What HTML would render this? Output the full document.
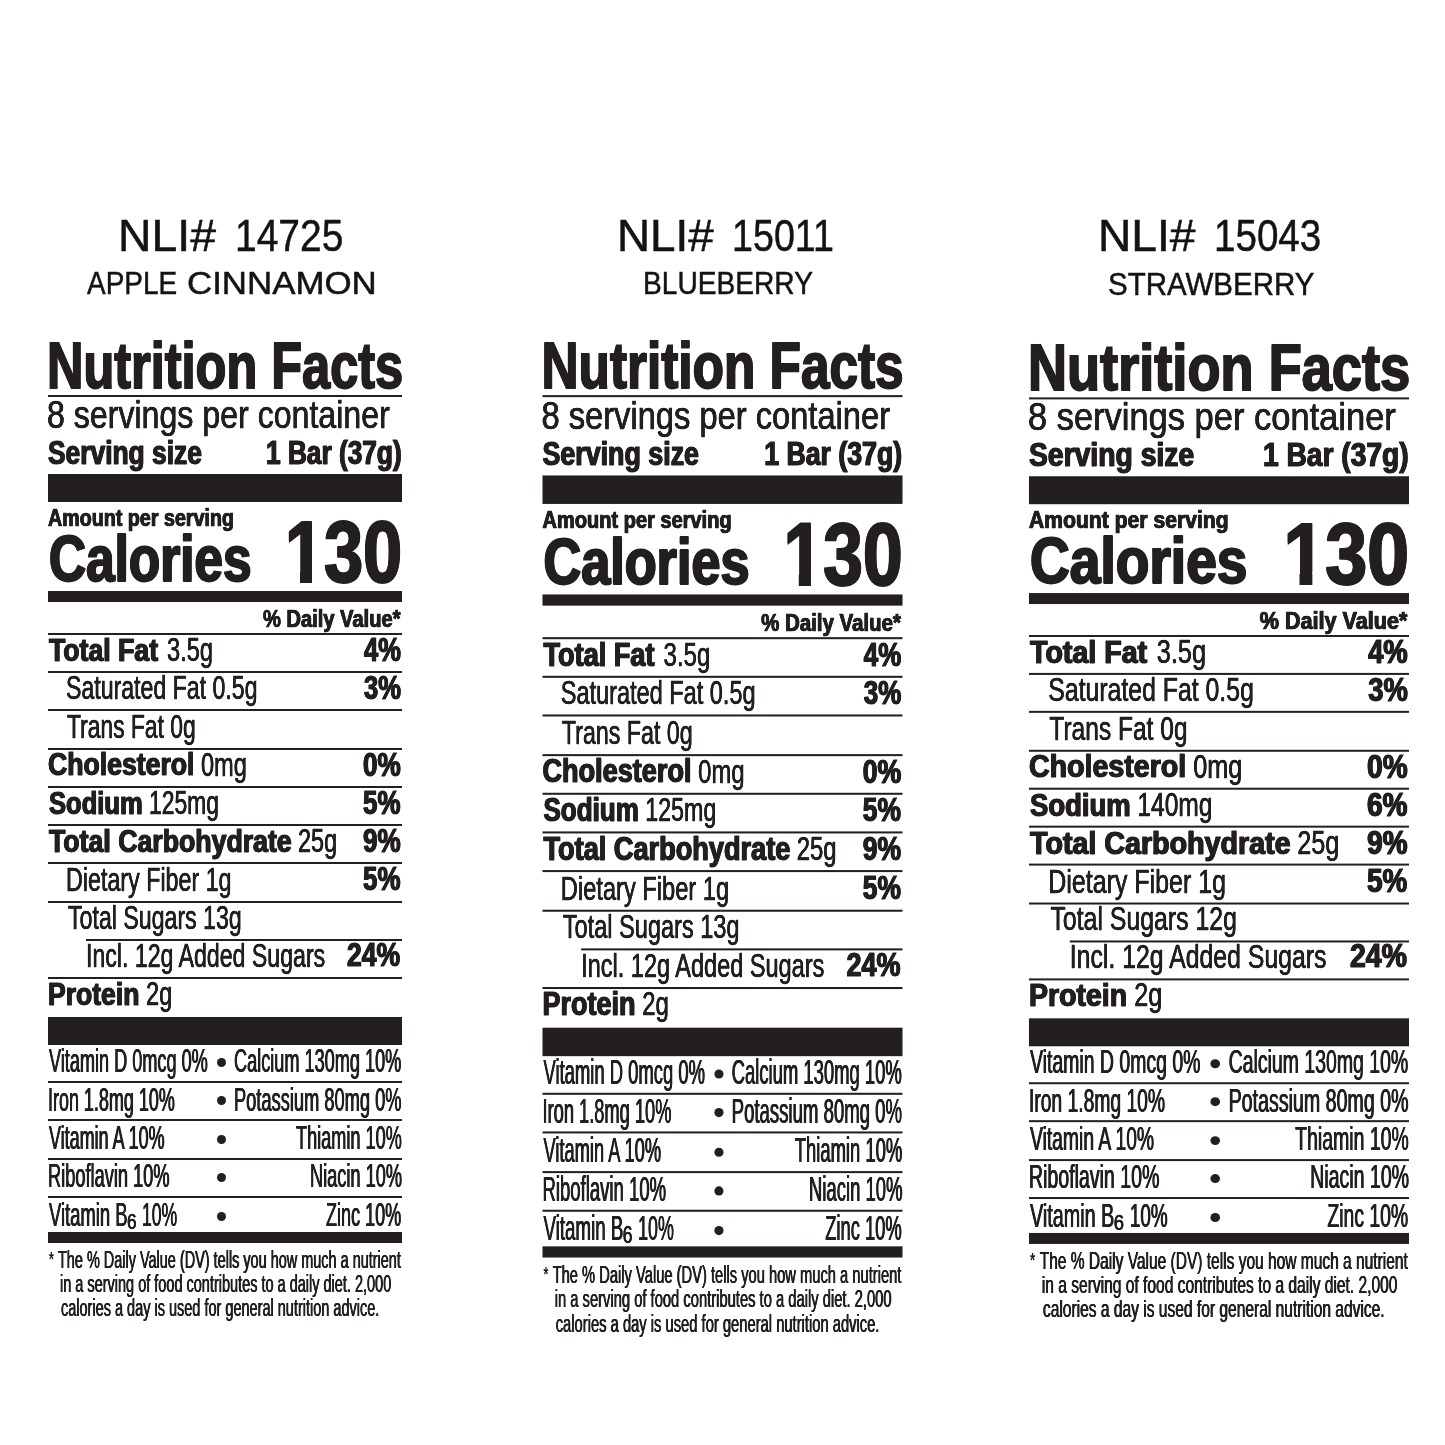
<!DOCTYPE html>
<html lang="en"><head><meta charset="utf-8"><title>Nutrition Facts</title>
<style>
html,body{margin:0;padding:0;background:#fff}
body{width:1445px;height:1445px;position:relative;overflow:hidden;font-family:"Liberation Sans", sans-serif;color:#231f20}
.lab{position:absolute;left:0;top:0;width:0;height:0;transform-origin:0 0}
.t{position:absolute;white-space:pre;line-height:1;transform-origin:0 0;font-weight:400}
.t.b{font-weight:700}
.r{position:absolute;background:#231f20}
.d{position:absolute;background:#231f20;border-radius:50%}
.m{position:absolute;background:#fff}
</style></head>
<body>
<div class="hdr">
<span class="t" style="left:117.96px;top:214.00px;font-size:43.75px;transform:scaleX(1.0597);color:#151213;-webkit-text-stroke:0.50px #151213">NLI#</span>
<span class="t" style="left:234.50px;top:214.00px;font-size:43.75px;transform:scaleX(0.8909);color:#151213;-webkit-text-stroke:0.50px #151213">14725</span>
<span class="t" style="left:87.22px;top:267.00px;font-size:32.25px;transform:scaleX(0.8660);color:#151213;-webkit-text-stroke:0.50px #151213">APPLE</span>
<span class="t" style="left:187.03px;top:267.00px;font-size:32.25px;transform:scaleX(1.0809);color:#151213;-webkit-text-stroke:0.50px #151213">CINNAMON</span>
<span class="t" style="left:616.50px;top:214.00px;font-size:43.75px;transform:scaleX(1.0474);color:#151213;-webkit-text-stroke:0.50px #151213">NLI#</span>
<span class="t" style="left:732.39px;top:214.00px;font-size:43.75px;transform:scaleX(0.8608);color:#151213;-webkit-text-stroke:0.50px #151213">15011</span>
<span class="t" style="left:642.97px;top:267.00px;font-size:32.25px;transform:scaleX(0.8725);color:#151213;-webkit-text-stroke:0.50px #151213">BLUEBERRY</span>
<span class="t" style="left:1097.67px;top:214.00px;font-size:43.75px;transform:scaleX(1.0552);color:#151213;-webkit-text-stroke:0.50px #151213">NLI#</span>
<span class="t" style="left:1214.03px;top:214.00px;font-size:43.75px;transform:scaleX(0.8815);color:#151213;-webkit-text-stroke:0.50px #151213">15043</span>
<span class="t" style="left:1107.70px;top:268.00px;font-size:32.25px;transform:scaleX(0.9142);color:#151213;-webkit-text-stroke:0.50px #151213">STRAWBERRY</span>
</div>
<div class="lab">
<div class="r" style="left:47.70px;top:394.75px;width:354.50px;height:1.80px"></div>
<div class="r" style="left:47.70px;top:473.60px;width:354.50px;height:28.30px"></div>
<div class="r" style="left:47.70px;top:591.30px;width:354.50px;height:10.70px"></div>
<div class="r" style="left:47.70px;top:633.00px;width:354.50px;height:2.00px"></div>
<div class="r" style="left:47.70px;top:671.20px;width:354.50px;height:2.00px"></div>
<div class="r" style="left:47.70px;top:709.40px;width:354.50px;height:2.00px"></div>
<div class="r" style="left:47.70px;top:747.70px;width:354.50px;height:2.00px"></div>
<div class="r" style="left:47.70px;top:785.90px;width:354.50px;height:2.00px"></div>
<div class="r" style="left:47.70px;top:824.20px;width:354.50px;height:2.00px"></div>
<div class="r" style="left:47.70px;top:862.40px;width:354.50px;height:2.00px"></div>
<div class="r" style="left:47.70px;top:900.60px;width:354.50px;height:2.00px"></div>
<div class="r" style="left:86.40px;top:938.60px;width:315.80px;height:2.00px"></div>
<div class="r" style="left:47.70px;top:977.00px;width:354.50px;height:2.00px"></div>
<div class="r" style="left:47.70px;top:1017.30px;width:354.50px;height:27.80px"></div>
<div class="r" style="left:47.70px;top:1080.60px;width:354.50px;height:2.00px"></div>
<div class="r" style="left:47.70px;top:1119.00px;width:354.50px;height:2.00px"></div>
<div class="r" style="left:47.70px;top:1157.50px;width:354.50px;height:2.00px"></div>
<div class="r" style="left:47.70px;top:1196.00px;width:354.50px;height:2.00px"></div>
<div class="r" style="left:47.70px;top:1232.40px;width:354.50px;height:11.10px"></div>
<div class="d" style="left:217.20px;top:1058.30px;width:9.00px;height:9.00px"></div>
<div class="d" style="left:217.20px;top:1096.40px;width:9.00px;height:9.00px"></div>
<div class="d" style="left:217.20px;top:1134.90px;width:9.00px;height:9.00px"></div>
<div class="d" style="left:217.20px;top:1173.20px;width:9.00px;height:9.00px"></div>
<div class="d" style="left:217.20px;top:1211.60px;width:9.00px;height:9.00px"></div>
<span class="t b" style="left:46.61px;top:334.00px;font-size:64.50px;transform:scaleX(0.7825);-webkit-text-stroke:1.80px #231f20;text-shadow:0.75px 0 0 #231f20,-0.75px 0 0 #231f20">Nutrition Facts</span>
<span class="t" style="left:47.29px;top:395.00px;font-size:39.00px;transform:scaleX(0.8235);-webkit-text-stroke:0.50px #231f20;text-shadow:0.20px 0 0 #231f20,-0.20px 0 0 #231f20">8 servings per container</span>
<span class="t b" style="left:47.85px;top:436.00px;font-size:33.50px;transform:scaleX(0.7870);-webkit-text-stroke:1.00px #231f20;text-shadow:0.65px 0 0 #231f20,-0.65px 0 0 #231f20">Serving size</span>
<span class="t b" style="left:265.73px;top:436.00px;font-size:33.50px;transform:scaleX(0.7834);-webkit-text-stroke:1.00px #231f20;text-shadow:0.65px 0 0 #231f20,-0.65px 0 0 #231f20">1 Bar (37g)</span>
<span class="t b" style="left:48.46px;top:506.00px;font-size:24.25px;transform:scaleX(0.8120);-webkit-text-stroke:0.70px #231f20;text-shadow:0.45px 0 0 #231f20,-0.45px 0 0 #231f20">Amount per serving</span>
<span class="t b" style="left:48.79px;top:527.00px;font-size:64.00px;transform:scaleX(0.8019);-webkit-text-stroke:1.80px #231f20;text-shadow:1.15px 0 0 #231f20,-1.15px 0 0 #231f20">Calories</span>
<span class="t b" style="left:284.57px;top:509.00px;font-size:87.75px;transform:scaleX(0.7997);-webkit-text-stroke:2.00px #231f20;text-shadow:1.10px 0 0 #231f20,-1.10px 0 0 #231f20">130</span>
<i class="m" style="left:286.31px;top:570.44px;width:13.56px;height:13.56px"></i>
<i class="m" style="left:312.36px;top:570.44px;width:11.57px;height:13.56px"></i>
<span class="t b" style="left:263.16px;top:607.00px;font-size:24.25px;transform:scaleX(0.8291);-webkit-text-stroke:0.70px #231f20;text-shadow:0.45px 0 0 #231f20,-0.45px 0 0 #231f20">% Daily Value*</span>
<span class="t b" style="left:49.19px;top:634.00px;font-size:32.00px;transform:scaleX(0.8329);-webkit-text-stroke:1.00px #231f20;text-shadow:0.65px 0 0 #231f20,-0.65px 0 0 #231f20">Total Fat</span>
<span class="t" style="left:166.76px;top:633.00px;font-size:33.00px;transform:scaleX(0.7162);-webkit-text-stroke:0.30px #231f20;text-shadow:0.25px 0 0 #231f20,-0.25px 0 0 #231f20">3.5g</span>
<span class="t b" style="left:363.80px;top:633.00px;font-size:33.25px;transform:scaleX(0.7645);-webkit-text-stroke:1.00px #231f20;text-shadow:0.65px 0 0 #231f20,-0.65px 0 0 #231f20">4%</span>
<span class="t" style="left:66.44px;top:671.00px;font-size:33.00px;transform:scaleX(0.7006);-webkit-text-stroke:0.30px #231f20;text-shadow:0.25px 0 0 #231f20,-0.25px 0 0 #231f20">Saturated Fat 0.5g</span>
<span class="t b" style="left:363.67px;top:671.00px;font-size:33.25px;transform:scaleX(0.7671);-webkit-text-stroke:1.00px #231f20;text-shadow:0.65px 0 0 #231f20,-0.65px 0 0 #231f20">3%</span>
<span class="t" style="left:67.12px;top:710.00px;font-size:33.00px;transform:scaleX(0.6925);-webkit-text-stroke:0.30px #231f20;text-shadow:0.25px 0 0 #231f20,-0.25px 0 0 #231f20">Trans Fat 0g</span>
<span class="t b" style="left:48.19px;top:748.00px;font-size:32.00px;transform:scaleX(0.8320);-webkit-text-stroke:1.00px #231f20;text-shadow:0.65px 0 0 #231f20,-0.65px 0 0 #231f20">Cholesterol</span>
<span class="t" style="left:201.36px;top:748.00px;font-size:33.00px;transform:scaleX(0.7133);-webkit-text-stroke:0.30px #231f20;text-shadow:0.25px 0 0 #231f20,-0.25px 0 0 #231f20">0mg</span>
<span class="t b" style="left:362.79px;top:748.00px;font-size:33.25px;transform:scaleX(0.7853);-webkit-text-stroke:1.00px #231f20;text-shadow:0.65px 0 0 #231f20,-0.65px 0 0 #231f20">0%</span>
<span class="t b" style="left:48.58px;top:787.00px;font-size:32.00px;transform:scaleX(0.7987);-webkit-text-stroke:1.00px #231f20;text-shadow:0.65px 0 0 #231f20,-0.65px 0 0 #231f20">Sodium</span>
<span class="t" style="left:149.26px;top:786.00px;font-size:33.00px;transform:scaleX(0.6934);-webkit-text-stroke:0.30px #231f20;text-shadow:0.25px 0 0 #231f20,-0.25px 0 0 #231f20">125mg</span>
<span class="t b" style="left:363.12px;top:786.00px;font-size:33.25px;transform:scaleX(0.7785);-webkit-text-stroke:1.00px #231f20;text-shadow:0.65px 0 0 #231f20,-0.65px 0 0 #231f20">5%</span>
<span class="t b" style="left:49.19px;top:825.00px;font-size:32.00px;transform:scaleX(0.8340);-webkit-text-stroke:1.00px #231f20;text-shadow:0.65px 0 0 #231f20,-0.65px 0 0 #231f20">Total Carbohydrate</span>
<span class="t" style="left:298.31px;top:824.00px;font-size:33.00px;transform:scaleX(0.7108);-webkit-text-stroke:0.30px #231f20;text-shadow:0.25px 0 0 #231f20,-0.25px 0 0 #231f20">25g</span>
<span class="t b" style="left:362.92px;top:824.00px;font-size:33.25px;transform:scaleX(0.7826);-webkit-text-stroke:1.00px #231f20;text-shadow:0.65px 0 0 #231f20,-0.65px 0 0 #231f20">9%</span>
<span class="t" style="left:66.32px;top:863.00px;font-size:33.00px;transform:scaleX(0.7051);-webkit-text-stroke:0.30px #231f20;text-shadow:0.25px 0 0 #231f20,-0.25px 0 0 #231f20">Dietary Fiber 1g</span>
<span class="t b" style="left:363.12px;top:862.00px;font-size:33.25px;transform:scaleX(0.7785);-webkit-text-stroke:1.00px #231f20;text-shadow:0.65px 0 0 #231f20,-0.65px 0 0 #231f20">5%</span>
<span class="t" style="left:67.52px;top:901.00px;font-size:33.00px;transform:scaleX(0.7014);-webkit-text-stroke:0.30px #231f20;text-shadow:0.25px 0 0 #231f20,-0.25px 0 0 #231f20">Total Sugars 13g</span>
<span class="t" style="left:86.00px;top:939.00px;font-size:33.00px;transform:scaleX(0.7008);-webkit-text-stroke:0.30px #231f20;text-shadow:0.25px 0 0 #231f20,-0.25px 0 0 #231f20">Incl. 12g Added Sugars</span>
<span class="t b" style="left:347.42px;top:938.00px;font-size:33.25px;transform:scaleX(0.7979);-webkit-text-stroke:1.00px #231f20;text-shadow:0.65px 0 0 #231f20,-0.65px 0 0 #231f20">24%</span>
<span class="t b" style="left:48.23px;top:978.00px;font-size:32.00px;transform:scaleX(0.8294);-webkit-text-stroke:1.00px #231f20;text-shadow:0.65px 0 0 #231f20,-0.65px 0 0 #231f20">Protein</span>
<span class="t" style="left:145.71px;top:977.00px;font-size:33.00px;transform:scaleX(0.7152);-webkit-text-stroke:0.30px #231f20;text-shadow:0.25px 0 0 #231f20,-0.25px 0 0 #231f20">2g</span>
<span class="t" style="left:49.32px;top:1044.00px;font-size:33.75px;transform:scaleX(0.5369);text-shadow:0.60px 0 0 #231f20,-0.60px 0 0 #231f20">Vitamin D 0mcg 0%</span>
<span class="t" style="left:234.32px;top:1044.00px;font-size:33.75px;transform:scaleX(0.5372);text-shadow:0.60px 0 0 #231f20,-0.60px 0 0 #231f20">Calcium 130mg 10%</span>
<span class="t" style="left:48.00px;top:1083.00px;font-size:33.75px;transform:scaleX(0.5322);text-shadow:0.60px 0 0 #231f20,-0.60px 0 0 #231f20">Iron 1.8mg 10%</span>
<span class="t" style="left:234.06px;top:1083.00px;font-size:33.75px;transform:scaleX(0.5413);text-shadow:0.60px 0 0 #231f20,-0.60px 0 0 #231f20">Potassium 80mg 0%</span>
<span class="t" style="left:49.32px;top:1121.00px;font-size:33.75px;transform:scaleX(0.5326);text-shadow:0.60px 0 0 #231f20,-0.60px 0 0 #231f20">Vitamin A 10%</span>
<span class="t" style="left:295.76px;top:1121.00px;font-size:33.75px;transform:scaleX(0.5373);text-shadow:0.60px 0 0 #231f20,-0.60px 0 0 #231f20">Thiamin 10%</span>
<span class="t" style="left:48.17px;top:1159.00px;font-size:33.75px;transform:scaleX(0.5398);text-shadow:0.60px 0 0 #231f20,-0.60px 0 0 #231f20">Riboflavin 10%</span>
<span class="t" style="left:309.57px;top:1159.00px;font-size:33.75px;transform:scaleX(0.5391);text-shadow:0.60px 0 0 #231f20,-0.60px 0 0 #231f20">Niacin 10%</span>
<span class="t" style="left:49.33px;top:1198.00px;font-size:33.75px;transform:scaleX(0.5459);text-shadow:0.60px 0 0 #231f20,-0.60px 0 0 #231f20">Vitamin B</span>
<span class="t" style="left:127.06px;top:1210.00px;font-size:22.75px;transform:scaleX(0.7535);-webkit-text-stroke:0.40px #231f20;text-shadow:0.35px 0 0 #231f20,-0.35px 0 0 #231f20">6</span>
<span class="t" style="left:142.09px;top:1198.00px;font-size:33.75px;transform:scaleX(0.5210);text-shadow:0.60px 0 0 #231f20,-0.60px 0 0 #231f20">10%</span>
<span class="t" style="left:326.38px;top:1198.00px;font-size:33.75px;transform:scaleX(0.5346);text-shadow:0.60px 0 0 #231f20,-0.60px 0 0 #231f20">Zinc 10%</span>
<span class="t b" style="left:48.80px;top:1249.00px;font-size:20.75px;transform:scaleX(0.5931)">*</span>
<span class="t" style="left:57.69px;top:1249.00px;font-size:23.50px;transform:scaleX(0.6153);text-shadow:0.45px 0 0 #231f20,-0.45px 0 0 #231f20">The % Daily Value (DV) tells you how much a nutrient</span>
<span class="t" style="left:60.34px;top:1273.00px;font-size:23.50px;transform:scaleX(0.6169);text-shadow:0.45px 0 0 #231f20,-0.45px 0 0 #231f20">in a serving of food contributes to a daily diet. 2,000</span>
<span class="t" style="left:60.50px;top:1297.00px;font-size:23.50px;transform:scaleX(0.6169);text-shadow:0.45px 0 0 #231f20,-0.45px 0 0 #231f20">calories a day is used for general nutrition advice.</span>
</div>
<div class="lab" style="transform:matrix(1.017,0,0,1.017,493.675,-6.598)">
<div class="r" style="left:47.70px;top:394.75px;width:354.50px;height:1.80px"></div>
<div class="r" style="left:47.70px;top:473.60px;width:354.50px;height:28.30px"></div>
<div class="r" style="left:47.70px;top:591.30px;width:354.50px;height:10.70px"></div>
<div class="r" style="left:47.70px;top:633.00px;width:354.50px;height:2.00px"></div>
<div class="r" style="left:47.70px;top:671.20px;width:354.50px;height:2.00px"></div>
<div class="r" style="left:47.70px;top:709.40px;width:354.50px;height:2.00px"></div>
<div class="r" style="left:47.70px;top:747.70px;width:354.50px;height:2.00px"></div>
<div class="r" style="left:47.70px;top:785.90px;width:354.50px;height:2.00px"></div>
<div class="r" style="left:47.70px;top:824.20px;width:354.50px;height:2.00px"></div>
<div class="r" style="left:47.70px;top:862.40px;width:354.50px;height:2.00px"></div>
<div class="r" style="left:47.70px;top:900.60px;width:354.50px;height:2.00px"></div>
<div class="r" style="left:86.40px;top:938.60px;width:315.80px;height:2.00px"></div>
<div class="r" style="left:47.70px;top:977.00px;width:354.50px;height:2.00px"></div>
<div class="r" style="left:47.70px;top:1017.30px;width:354.50px;height:27.80px"></div>
<div class="r" style="left:47.70px;top:1080.60px;width:354.50px;height:2.00px"></div>
<div class="r" style="left:47.70px;top:1119.00px;width:354.50px;height:2.00px"></div>
<div class="r" style="left:47.70px;top:1157.50px;width:354.50px;height:2.00px"></div>
<div class="r" style="left:47.70px;top:1196.00px;width:354.50px;height:2.00px"></div>
<div class="r" style="left:47.70px;top:1232.40px;width:354.50px;height:11.10px"></div>
<div class="d" style="left:217.20px;top:1058.30px;width:9.00px;height:9.00px"></div>
<div class="d" style="left:217.20px;top:1096.40px;width:9.00px;height:9.00px"></div>
<div class="d" style="left:217.20px;top:1134.90px;width:9.00px;height:9.00px"></div>
<div class="d" style="left:217.20px;top:1173.20px;width:9.00px;height:9.00px"></div>
<div class="d" style="left:217.20px;top:1211.60px;width:9.00px;height:9.00px"></div>
<span class="t b" style="left:46.61px;top:334.00px;font-size:64.50px;transform:scaleX(0.7825);-webkit-text-stroke:1.80px #231f20;text-shadow:0.75px 0 0 #231f20,-0.75px 0 0 #231f20">Nutrition Facts</span>
<span class="t" style="left:47.29px;top:395.00px;font-size:39.00px;transform:scaleX(0.8235);-webkit-text-stroke:0.50px #231f20;text-shadow:0.20px 0 0 #231f20,-0.20px 0 0 #231f20">8 servings per container</span>
<span class="t b" style="left:47.85px;top:436.00px;font-size:33.50px;transform:scaleX(0.7870);-webkit-text-stroke:1.00px #231f20;text-shadow:0.65px 0 0 #231f20,-0.65px 0 0 #231f20">Serving size</span>
<span class="t b" style="left:265.73px;top:436.00px;font-size:33.50px;transform:scaleX(0.7834);-webkit-text-stroke:1.00px #231f20;text-shadow:0.65px 0 0 #231f20,-0.65px 0 0 #231f20">1 Bar (37g)</span>
<span class="t b" style="left:48.46px;top:506.00px;font-size:24.25px;transform:scaleX(0.8120);-webkit-text-stroke:0.70px #231f20;text-shadow:0.45px 0 0 #231f20,-0.45px 0 0 #231f20">Amount per serving</span>
<span class="t b" style="left:48.79px;top:527.00px;font-size:64.00px;transform:scaleX(0.8019);-webkit-text-stroke:1.80px #231f20;text-shadow:1.15px 0 0 #231f20,-1.15px 0 0 #231f20">Calories</span>
<span class="t b" style="left:284.57px;top:509.00px;font-size:87.75px;transform:scaleX(0.7997);-webkit-text-stroke:2.00px #231f20;text-shadow:1.10px 0 0 #231f20,-1.10px 0 0 #231f20">130</span>
<i class="m" style="left:286.31px;top:570.44px;width:13.56px;height:13.56px"></i>
<i class="m" style="left:312.36px;top:570.44px;width:11.57px;height:13.56px"></i>
<span class="t b" style="left:263.16px;top:607.00px;font-size:24.25px;transform:scaleX(0.8291);-webkit-text-stroke:0.70px #231f20;text-shadow:0.45px 0 0 #231f20,-0.45px 0 0 #231f20">% Daily Value*</span>
<span class="t b" style="left:49.19px;top:634.00px;font-size:32.00px;transform:scaleX(0.8329);-webkit-text-stroke:1.00px #231f20;text-shadow:0.65px 0 0 #231f20,-0.65px 0 0 #231f20">Total Fat</span>
<span class="t" style="left:166.76px;top:633.00px;font-size:33.00px;transform:scaleX(0.7162);-webkit-text-stroke:0.30px #231f20;text-shadow:0.25px 0 0 #231f20,-0.25px 0 0 #231f20">3.5g</span>
<span class="t b" style="left:363.80px;top:633.00px;font-size:33.25px;transform:scaleX(0.7645);-webkit-text-stroke:1.00px #231f20;text-shadow:0.65px 0 0 #231f20,-0.65px 0 0 #231f20">4%</span>
<span class="t" style="left:66.44px;top:671.00px;font-size:33.00px;transform:scaleX(0.7006);-webkit-text-stroke:0.30px #231f20;text-shadow:0.25px 0 0 #231f20,-0.25px 0 0 #231f20">Saturated Fat 0.5g</span>
<span class="t b" style="left:363.67px;top:671.00px;font-size:33.25px;transform:scaleX(0.7671);-webkit-text-stroke:1.00px #231f20;text-shadow:0.65px 0 0 #231f20,-0.65px 0 0 #231f20">3%</span>
<span class="t" style="left:67.12px;top:710.00px;font-size:33.00px;transform:scaleX(0.6925);-webkit-text-stroke:0.30px #231f20;text-shadow:0.25px 0 0 #231f20,-0.25px 0 0 #231f20">Trans Fat 0g</span>
<span class="t b" style="left:48.19px;top:748.00px;font-size:32.00px;transform:scaleX(0.8320);-webkit-text-stroke:1.00px #231f20;text-shadow:0.65px 0 0 #231f20,-0.65px 0 0 #231f20">Cholesterol</span>
<span class="t" style="left:201.36px;top:748.00px;font-size:33.00px;transform:scaleX(0.7133);-webkit-text-stroke:0.30px #231f20;text-shadow:0.25px 0 0 #231f20,-0.25px 0 0 #231f20">0mg</span>
<span class="t b" style="left:362.79px;top:748.00px;font-size:33.25px;transform:scaleX(0.7853);-webkit-text-stroke:1.00px #231f20;text-shadow:0.65px 0 0 #231f20,-0.65px 0 0 #231f20">0%</span>
<span class="t b" style="left:48.58px;top:787.00px;font-size:32.00px;transform:scaleX(0.7987);-webkit-text-stroke:1.00px #231f20;text-shadow:0.65px 0 0 #231f20,-0.65px 0 0 #231f20">Sodium</span>
<span class="t" style="left:149.26px;top:786.00px;font-size:33.00px;transform:scaleX(0.6934);-webkit-text-stroke:0.30px #231f20;text-shadow:0.25px 0 0 #231f20,-0.25px 0 0 #231f20">125mg</span>
<span class="t b" style="left:363.12px;top:786.00px;font-size:33.25px;transform:scaleX(0.7785);-webkit-text-stroke:1.00px #231f20;text-shadow:0.65px 0 0 #231f20,-0.65px 0 0 #231f20">5%</span>
<span class="t b" style="left:49.19px;top:825.00px;font-size:32.00px;transform:scaleX(0.8340);-webkit-text-stroke:1.00px #231f20;text-shadow:0.65px 0 0 #231f20,-0.65px 0 0 #231f20">Total Carbohydrate</span>
<span class="t" style="left:298.31px;top:824.00px;font-size:33.00px;transform:scaleX(0.7108);-webkit-text-stroke:0.30px #231f20;text-shadow:0.25px 0 0 #231f20,-0.25px 0 0 #231f20">25g</span>
<span class="t b" style="left:362.92px;top:824.00px;font-size:33.25px;transform:scaleX(0.7826);-webkit-text-stroke:1.00px #231f20;text-shadow:0.65px 0 0 #231f20,-0.65px 0 0 #231f20">9%</span>
<span class="t" style="left:66.32px;top:863.00px;font-size:33.00px;transform:scaleX(0.7051);-webkit-text-stroke:0.30px #231f20;text-shadow:0.25px 0 0 #231f20,-0.25px 0 0 #231f20">Dietary Fiber 1g</span>
<span class="t b" style="left:363.12px;top:862.00px;font-size:33.25px;transform:scaleX(0.7785);-webkit-text-stroke:1.00px #231f20;text-shadow:0.65px 0 0 #231f20,-0.65px 0 0 #231f20">5%</span>
<span class="t" style="left:67.52px;top:901.00px;font-size:33.00px;transform:scaleX(0.7014);-webkit-text-stroke:0.30px #231f20;text-shadow:0.25px 0 0 #231f20,-0.25px 0 0 #231f20">Total Sugars 13g</span>
<span class="t" style="left:86.00px;top:939.00px;font-size:33.00px;transform:scaleX(0.7008);-webkit-text-stroke:0.30px #231f20;text-shadow:0.25px 0 0 #231f20,-0.25px 0 0 #231f20">Incl. 12g Added Sugars</span>
<span class="t b" style="left:347.42px;top:938.00px;font-size:33.25px;transform:scaleX(0.7979);-webkit-text-stroke:1.00px #231f20;text-shadow:0.65px 0 0 #231f20,-0.65px 0 0 #231f20">24%</span>
<span class="t b" style="left:48.23px;top:978.00px;font-size:32.00px;transform:scaleX(0.8294);-webkit-text-stroke:1.00px #231f20;text-shadow:0.65px 0 0 #231f20,-0.65px 0 0 #231f20">Protein</span>
<span class="t" style="left:145.71px;top:977.00px;font-size:33.00px;transform:scaleX(0.7152);-webkit-text-stroke:0.30px #231f20;text-shadow:0.25px 0 0 #231f20,-0.25px 0 0 #231f20">2g</span>
<span class="t" style="left:49.32px;top:1044.00px;font-size:33.75px;transform:scaleX(0.5369);text-shadow:0.60px 0 0 #231f20,-0.60px 0 0 #231f20">Vitamin D 0mcg 0%</span>
<span class="t" style="left:234.32px;top:1044.00px;font-size:33.75px;transform:scaleX(0.5372);text-shadow:0.60px 0 0 #231f20,-0.60px 0 0 #231f20">Calcium 130mg 10%</span>
<span class="t" style="left:48.00px;top:1083.00px;font-size:33.75px;transform:scaleX(0.5322);text-shadow:0.60px 0 0 #231f20,-0.60px 0 0 #231f20">Iron 1.8mg 10%</span>
<span class="t" style="left:234.06px;top:1083.00px;font-size:33.75px;transform:scaleX(0.5413);text-shadow:0.60px 0 0 #231f20,-0.60px 0 0 #231f20">Potassium 80mg 0%</span>
<span class="t" style="left:49.32px;top:1121.00px;font-size:33.75px;transform:scaleX(0.5326);text-shadow:0.60px 0 0 #231f20,-0.60px 0 0 #231f20">Vitamin A 10%</span>
<span class="t" style="left:295.76px;top:1121.00px;font-size:33.75px;transform:scaleX(0.5373);text-shadow:0.60px 0 0 #231f20,-0.60px 0 0 #231f20">Thiamin 10%</span>
<span class="t" style="left:48.17px;top:1159.00px;font-size:33.75px;transform:scaleX(0.5398);text-shadow:0.60px 0 0 #231f20,-0.60px 0 0 #231f20">Riboflavin 10%</span>
<span class="t" style="left:309.57px;top:1159.00px;font-size:33.75px;transform:scaleX(0.5391);text-shadow:0.60px 0 0 #231f20,-0.60px 0 0 #231f20">Niacin 10%</span>
<span class="t" style="left:49.33px;top:1198.00px;font-size:33.75px;transform:scaleX(0.5459);text-shadow:0.60px 0 0 #231f20,-0.60px 0 0 #231f20">Vitamin B</span>
<span class="t" style="left:127.06px;top:1210.00px;font-size:22.75px;transform:scaleX(0.7535);-webkit-text-stroke:0.40px #231f20;text-shadow:0.35px 0 0 #231f20,-0.35px 0 0 #231f20">6</span>
<span class="t" style="left:142.09px;top:1198.00px;font-size:33.75px;transform:scaleX(0.5210);text-shadow:0.60px 0 0 #231f20,-0.60px 0 0 #231f20">10%</span>
<span class="t" style="left:326.38px;top:1198.00px;font-size:33.75px;transform:scaleX(0.5346);text-shadow:0.60px 0 0 #231f20,-0.60px 0 0 #231f20">Zinc 10%</span>
<span class="t b" style="left:48.80px;top:1249.00px;font-size:20.75px;transform:scaleX(0.5931)">*</span>
<span class="t" style="left:57.69px;top:1249.00px;font-size:23.50px;transform:scaleX(0.6153);text-shadow:0.45px 0 0 #231f20,-0.45px 0 0 #231f20">The % Daily Value (DV) tells you how much a nutrient</span>
<span class="t" style="left:60.34px;top:1273.00px;font-size:23.50px;transform:scaleX(0.6169);text-shadow:0.45px 0 0 #231f20,-0.45px 0 0 #231f20">in a serving of food contributes to a daily diet. 2,000</span>
<span class="t" style="left:60.50px;top:1297.00px;font-size:23.50px;transform:scaleX(0.6169);text-shadow:0.45px 0 0 #231f20,-0.45px 0 0 #231f20">calories a day is used for general nutrition advice.</span>
</div>
<div class="lab" style="transform:matrix(1.0735,0,0,0.9983,977.435,3.060)">
<div class="r" style="left:47.70px;top:394.75px;width:354.50px;height:1.80px"></div>
<div class="r" style="left:47.70px;top:473.60px;width:354.50px;height:28.30px"></div>
<div class="r" style="left:47.70px;top:591.30px;width:354.50px;height:10.70px"></div>
<div class="r" style="left:47.70px;top:633.00px;width:354.50px;height:2.00px"></div>
<div class="r" style="left:47.70px;top:671.20px;width:354.50px;height:2.00px"></div>
<div class="r" style="left:47.70px;top:709.40px;width:354.50px;height:2.00px"></div>
<div class="r" style="left:47.70px;top:747.70px;width:354.50px;height:2.00px"></div>
<div class="r" style="left:47.70px;top:785.90px;width:354.50px;height:2.00px"></div>
<div class="r" style="left:47.70px;top:824.20px;width:354.50px;height:2.00px"></div>
<div class="r" style="left:47.70px;top:862.40px;width:354.50px;height:2.00px"></div>
<div class="r" style="left:47.70px;top:900.60px;width:354.50px;height:2.00px"></div>
<div class="r" style="left:86.40px;top:938.60px;width:315.80px;height:2.00px"></div>
<div class="r" style="left:47.70px;top:977.00px;width:354.50px;height:2.00px"></div>
<div class="r" style="left:47.70px;top:1017.30px;width:354.50px;height:27.80px"></div>
<div class="r" style="left:47.70px;top:1080.60px;width:354.50px;height:2.00px"></div>
<div class="r" style="left:47.70px;top:1119.00px;width:354.50px;height:2.00px"></div>
<div class="r" style="left:47.70px;top:1157.50px;width:354.50px;height:2.00px"></div>
<div class="r" style="left:47.70px;top:1196.00px;width:354.50px;height:2.00px"></div>
<div class="r" style="left:47.70px;top:1232.40px;width:354.50px;height:11.10px"></div>
<div class="d" style="left:217.20px;top:1058.30px;width:9.00px;height:9.00px"></div>
<div class="d" style="left:217.20px;top:1096.40px;width:9.00px;height:9.00px"></div>
<div class="d" style="left:217.20px;top:1134.90px;width:9.00px;height:9.00px"></div>
<div class="d" style="left:217.20px;top:1173.20px;width:9.00px;height:9.00px"></div>
<div class="d" style="left:217.20px;top:1211.60px;width:9.00px;height:9.00px"></div>
<span class="t b" style="left:46.61px;top:334.00px;font-size:64.50px;transform:scaleX(0.7825);-webkit-text-stroke:1.80px #231f20;text-shadow:0.75px 0 0 #231f20,-0.75px 0 0 #231f20">Nutrition Facts</span>
<span class="t" style="left:47.29px;top:395.00px;font-size:39.00px;transform:scaleX(0.8235);-webkit-text-stroke:0.50px #231f20;text-shadow:0.20px 0 0 #231f20,-0.20px 0 0 #231f20">8 servings per container</span>
<span class="t b" style="left:47.85px;top:436.00px;font-size:33.50px;transform:scaleX(0.7870);-webkit-text-stroke:1.00px #231f20;text-shadow:0.65px 0 0 #231f20,-0.65px 0 0 #231f20">Serving size</span>
<span class="t b" style="left:265.73px;top:436.00px;font-size:33.50px;transform:scaleX(0.7834);-webkit-text-stroke:1.00px #231f20;text-shadow:0.65px 0 0 #231f20,-0.65px 0 0 #231f20">1 Bar (37g)</span>
<span class="t b" style="left:48.46px;top:506.00px;font-size:24.25px;transform:scaleX(0.8120);-webkit-text-stroke:0.70px #231f20;text-shadow:0.45px 0 0 #231f20,-0.45px 0 0 #231f20">Amount per serving</span>
<span class="t b" style="left:48.79px;top:527.00px;font-size:64.00px;transform:scaleX(0.8019);-webkit-text-stroke:1.80px #231f20;text-shadow:1.15px 0 0 #231f20,-1.15px 0 0 #231f20">Calories</span>
<span class="t b" style="left:284.57px;top:509.00px;font-size:87.75px;transform:scaleX(0.7997);-webkit-text-stroke:2.00px #231f20;text-shadow:1.10px 0 0 #231f20,-1.10px 0 0 #231f20">130</span>
<i class="m" style="left:286.31px;top:570.44px;width:13.56px;height:13.56px"></i>
<i class="m" style="left:312.36px;top:570.44px;width:11.57px;height:13.56px"></i>
<span class="t b" style="left:263.16px;top:607.00px;font-size:24.25px;transform:scaleX(0.8291);-webkit-text-stroke:0.70px #231f20;text-shadow:0.45px 0 0 #231f20,-0.45px 0 0 #231f20">% Daily Value*</span>
<span class="t b" style="left:49.19px;top:634.00px;font-size:32.00px;transform:scaleX(0.8329);-webkit-text-stroke:1.00px #231f20;text-shadow:0.65px 0 0 #231f20,-0.65px 0 0 #231f20">Total Fat</span>
<span class="t" style="left:166.76px;top:633.00px;font-size:33.00px;transform:scaleX(0.7162);-webkit-text-stroke:0.30px #231f20;text-shadow:0.25px 0 0 #231f20,-0.25px 0 0 #231f20">3.5g</span>
<span class="t b" style="left:363.80px;top:633.00px;font-size:33.25px;transform:scaleX(0.7645);-webkit-text-stroke:1.00px #231f20;text-shadow:0.65px 0 0 #231f20,-0.65px 0 0 #231f20">4%</span>
<span class="t" style="left:66.44px;top:671.00px;font-size:33.00px;transform:scaleX(0.7006);-webkit-text-stroke:0.30px #231f20;text-shadow:0.25px 0 0 #231f20,-0.25px 0 0 #231f20">Saturated Fat 0.5g</span>
<span class="t b" style="left:363.67px;top:671.00px;font-size:33.25px;transform:scaleX(0.7671);-webkit-text-stroke:1.00px #231f20;text-shadow:0.65px 0 0 #231f20,-0.65px 0 0 #231f20">3%</span>
<span class="t" style="left:67.12px;top:710.00px;font-size:33.00px;transform:scaleX(0.6925);-webkit-text-stroke:0.30px #231f20;text-shadow:0.25px 0 0 #231f20,-0.25px 0 0 #231f20">Trans Fat 0g</span>
<span class="t b" style="left:48.19px;top:748.00px;font-size:32.00px;transform:scaleX(0.8320);-webkit-text-stroke:1.00px #231f20;text-shadow:0.65px 0 0 #231f20,-0.65px 0 0 #231f20">Cholesterol</span>
<span class="t" style="left:201.36px;top:748.00px;font-size:33.00px;transform:scaleX(0.7133);-webkit-text-stroke:0.30px #231f20;text-shadow:0.25px 0 0 #231f20,-0.25px 0 0 #231f20">0mg</span>
<span class="t b" style="left:362.79px;top:748.00px;font-size:33.25px;transform:scaleX(0.7853);-webkit-text-stroke:1.00px #231f20;text-shadow:0.65px 0 0 #231f20,-0.65px 0 0 #231f20">0%</span>
<span class="t b" style="left:48.58px;top:787.00px;font-size:32.00px;transform:scaleX(0.7987);-webkit-text-stroke:1.00px #231f20;text-shadow:0.65px 0 0 #231f20,-0.65px 0 0 #231f20">Sodium</span>
<span class="t" style="left:149.26px;top:786.00px;font-size:33.00px;transform:scaleX(0.6934);-webkit-text-stroke:0.30px #231f20;text-shadow:0.25px 0 0 #231f20,-0.25px 0 0 #231f20">140mg</span>
<span class="t b" style="left:362.99px;top:786.00px;font-size:33.25px;transform:scaleX(0.7812);-webkit-text-stroke:1.00px #231f20;text-shadow:0.65px 0 0 #231f20,-0.65px 0 0 #231f20">6%</span>
<span class="t b" style="left:49.19px;top:825.00px;font-size:32.00px;transform:scaleX(0.8340);-webkit-text-stroke:1.00px #231f20;text-shadow:0.65px 0 0 #231f20,-0.65px 0 0 #231f20">Total Carbohydrate</span>
<span class="t" style="left:298.31px;top:824.00px;font-size:33.00px;transform:scaleX(0.7108);-webkit-text-stroke:0.30px #231f20;text-shadow:0.25px 0 0 #231f20,-0.25px 0 0 #231f20">25g</span>
<span class="t b" style="left:362.92px;top:824.00px;font-size:33.25px;transform:scaleX(0.7826);-webkit-text-stroke:1.00px #231f20;text-shadow:0.65px 0 0 #231f20,-0.65px 0 0 #231f20">9%</span>
<span class="t" style="left:66.32px;top:863.00px;font-size:33.00px;transform:scaleX(0.7051);-webkit-text-stroke:0.30px #231f20;text-shadow:0.25px 0 0 #231f20,-0.25px 0 0 #231f20">Dietary Fiber 1g</span>
<span class="t b" style="left:363.12px;top:862.00px;font-size:33.25px;transform:scaleX(0.7785);-webkit-text-stroke:1.00px #231f20;text-shadow:0.65px 0 0 #231f20,-0.65px 0 0 #231f20">5%</span>
<span class="t" style="left:67.52px;top:901.00px;font-size:33.00px;transform:scaleX(0.7014);-webkit-text-stroke:0.30px #231f20;text-shadow:0.25px 0 0 #231f20,-0.25px 0 0 #231f20">Total Sugars 12g</span>
<span class="t" style="left:86.00px;top:939.00px;font-size:33.00px;transform:scaleX(0.7008);-webkit-text-stroke:0.30px #231f20;text-shadow:0.25px 0 0 #231f20,-0.25px 0 0 #231f20">Incl. 12g Added Sugars</span>
<span class="t b" style="left:347.42px;top:938.00px;font-size:33.25px;transform:scaleX(0.7979);-webkit-text-stroke:1.00px #231f20;text-shadow:0.65px 0 0 #231f20,-0.65px 0 0 #231f20">24%</span>
<span class="t b" style="left:48.23px;top:978.00px;font-size:32.00px;transform:scaleX(0.8294);-webkit-text-stroke:1.00px #231f20;text-shadow:0.65px 0 0 #231f20,-0.65px 0 0 #231f20">Protein</span>
<span class="t" style="left:145.71px;top:977.00px;font-size:33.00px;transform:scaleX(0.7152);-webkit-text-stroke:0.30px #231f20;text-shadow:0.25px 0 0 #231f20,-0.25px 0 0 #231f20">2g</span>
<span class="t" style="left:49.32px;top:1044.00px;font-size:33.75px;transform:scaleX(0.5369);text-shadow:0.60px 0 0 #231f20,-0.60px 0 0 #231f20">Vitamin D 0mcg 0%</span>
<span class="t" style="left:234.32px;top:1044.00px;font-size:33.75px;transform:scaleX(0.5372);text-shadow:0.60px 0 0 #231f20,-0.60px 0 0 #231f20">Calcium 130mg 10%</span>
<span class="t" style="left:48.00px;top:1083.00px;font-size:33.75px;transform:scaleX(0.5322);text-shadow:0.60px 0 0 #231f20,-0.60px 0 0 #231f20">Iron 1.8mg 10%</span>
<span class="t" style="left:234.06px;top:1083.00px;font-size:33.75px;transform:scaleX(0.5413);text-shadow:0.60px 0 0 #231f20,-0.60px 0 0 #231f20">Potassium 80mg 0%</span>
<span class="t" style="left:49.32px;top:1121.00px;font-size:33.75px;transform:scaleX(0.5326);text-shadow:0.60px 0 0 #231f20,-0.60px 0 0 #231f20">Vitamin A 10%</span>
<span class="t" style="left:295.76px;top:1121.00px;font-size:33.75px;transform:scaleX(0.5373);text-shadow:0.60px 0 0 #231f20,-0.60px 0 0 #231f20">Thiamin 10%</span>
<span class="t" style="left:48.17px;top:1159.00px;font-size:33.75px;transform:scaleX(0.5398);text-shadow:0.60px 0 0 #231f20,-0.60px 0 0 #231f20">Riboflavin 10%</span>
<span class="t" style="left:309.57px;top:1159.00px;font-size:33.75px;transform:scaleX(0.5391);text-shadow:0.60px 0 0 #231f20,-0.60px 0 0 #231f20">Niacin 10%</span>
<span class="t" style="left:49.33px;top:1198.00px;font-size:33.75px;transform:scaleX(0.5459);text-shadow:0.60px 0 0 #231f20,-0.60px 0 0 #231f20">Vitamin B</span>
<span class="t" style="left:127.06px;top:1210.00px;font-size:22.75px;transform:scaleX(0.7535);-webkit-text-stroke:0.40px #231f20;text-shadow:0.35px 0 0 #231f20,-0.35px 0 0 #231f20">6</span>
<span class="t" style="left:142.09px;top:1198.00px;font-size:33.75px;transform:scaleX(0.5210);text-shadow:0.60px 0 0 #231f20,-0.60px 0 0 #231f20">10%</span>
<span class="t" style="left:326.38px;top:1198.00px;font-size:33.75px;transform:scaleX(0.5346);text-shadow:0.60px 0 0 #231f20,-0.60px 0 0 #231f20">Zinc 10%</span>
<span class="t b" style="left:48.80px;top:1249.00px;font-size:20.75px;transform:scaleX(0.5931)">*</span>
<span class="t" style="left:57.69px;top:1249.00px;font-size:23.50px;transform:scaleX(0.6153);text-shadow:0.45px 0 0 #231f20,-0.45px 0 0 #231f20">The % Daily Value (DV) tells you how much a nutrient</span>
<span class="t" style="left:60.34px;top:1273.00px;font-size:23.50px;transform:scaleX(0.6169);text-shadow:0.45px 0 0 #231f20,-0.45px 0 0 #231f20">in a serving of food contributes to a daily diet. 2,000</span>
<span class="t" style="left:60.50px;top:1297.00px;font-size:23.50px;transform:scaleX(0.6169);text-shadow:0.45px 0 0 #231f20,-0.45px 0 0 #231f20">calories a day is used for general nutrition advice.</span>
</div>
</body></html>
